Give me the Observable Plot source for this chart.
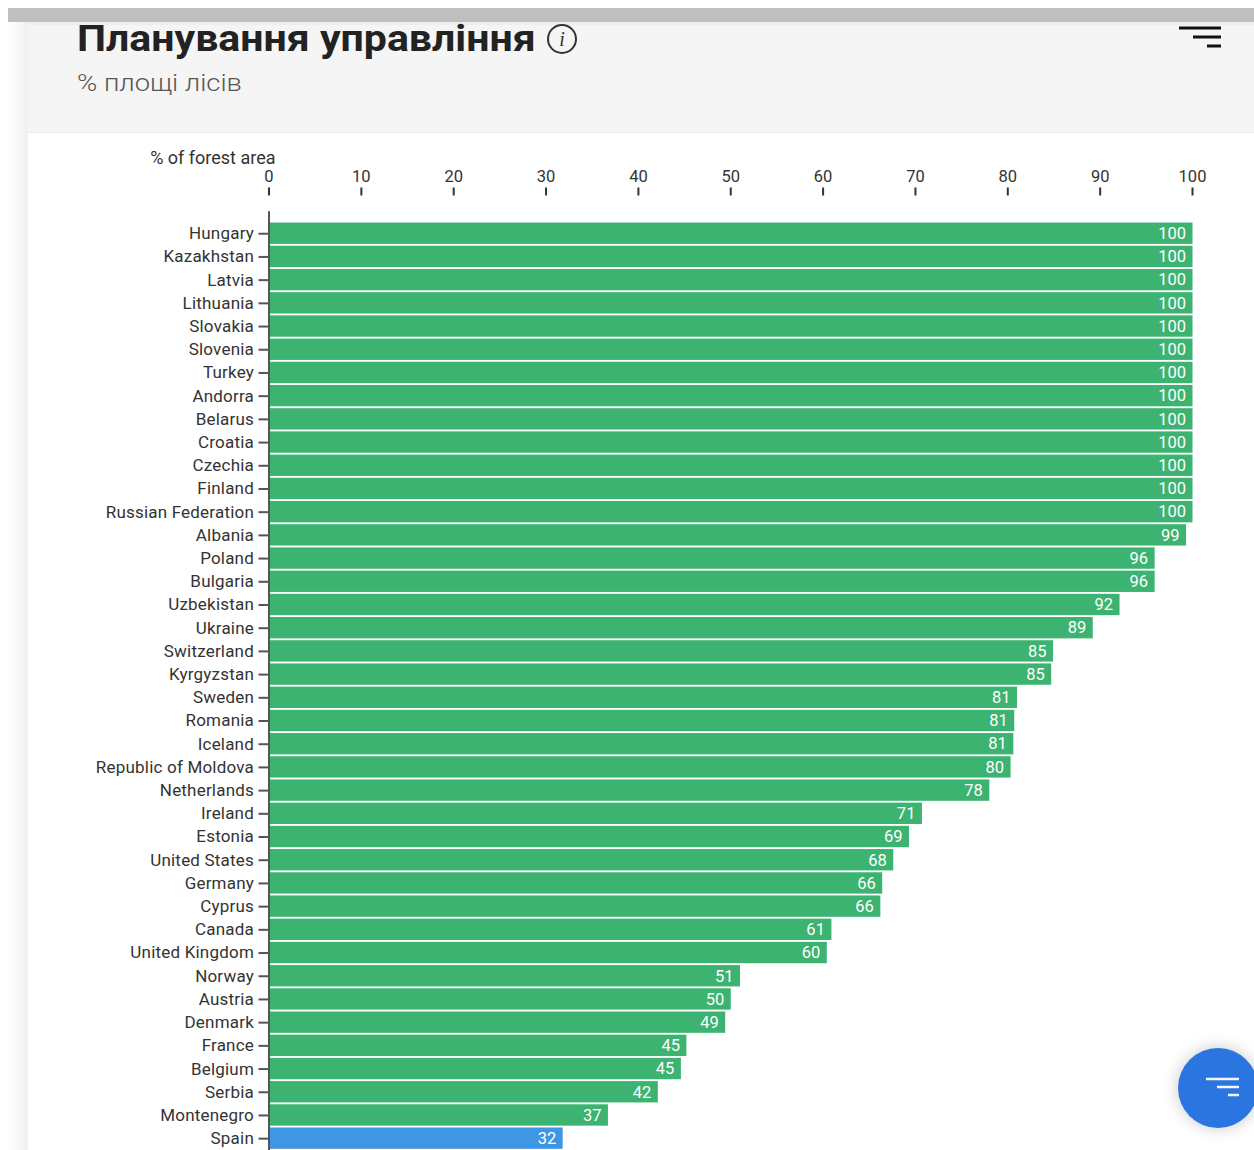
<!DOCTYPE html>
<html><head><meta charset="utf-8">
<script src="https://cdn.jsdelivr.net/npm/d3@7"></script>
<script src="https://cdn.jsdelivr.net/npm/@observablehq/plot@0.6"></script>
<style>
html,body{margin:0;padding:0;background:#fff;overflow:hidden}
#page{position:relative;width:1254px;height:1150px;overflow:hidden;font-family:Roboto,sans-serif}
#strip{position:absolute;left:8px;top:22px;width:20px;height:1128px;background:linear-gradient(90deg,#fff,#f0f0f0)}
#head{position:absolute;left:28px;top:22px;right:0;height:107px;background:#f5f5f5;border-top:3px solid #eee;border-bottom:1px solid #e9e9e9}
#bar{position:absolute;left:8px;right:0;top:8px;height:14px;background:#bfbfbf}
h1{position:absolute;left:77px;top:17px;margin:0;font-size:36px;line-height:44px;font-weight:700;color:#222;transform:scaleX(1.14);transform-origin:left center;white-space:nowrap}
#sub{position:absolute;left:77px;top:68px;font-size:24px;line-height:30px;font-weight:300;color:#555;transform:scaleX(1.14);transform-origin:left center;white-space:nowrap}
#plot{position:absolute;left:0;top:0}
.ic{position:absolute}
#fab{position:absolute;left:1178px;top:1048px;width:80px;height:80px;border-radius:50%;background:#2b75e0;box-shadow:0 0 16px rgba(0,0,0,.22)}
</style></head><body>
<div id="page">
<div id="strip"></div><div id="head"></div><div id="bar"></div>
<h1>Планування управління</h1>
<svg class="ic" style="left:546px;top:23px" width="32" height="32" viewBox="0 0 32 32"><circle cx="16" cy="16" r="14" fill="none" stroke="#333" stroke-width="2"/><text x="16" y="23" text-anchor="middle" font-family="Liberation Serif" font-style="italic" font-size="20" fill="#333">i</text></svg>
<div id="sub">% площі лісів</div>
<div id="plot"></div>
<svg class="ic" style="left:1178px;top:24px" width="44" height="26"><path d="M1 4H43M15 13H43M29 22H43" stroke="#111" stroke-width="3"/></svg>
<div id="fab"><svg width="80" height="80"><path d="M28 31H61M39 39H61M50 47H61" stroke="#f4f8ff" stroke-width="2.5"/></svg></div>
</div>
<script>
const countries = ["Hungary","Kazakhstan","Latvia","Lithuania","Slovakia","Slovenia","Turkey","Andorra","Belarus","Croatia","Czechia","Finland","Russian Federation","Albania","Poland","Bulgaria","Uzbekistan","Ukraine","Switzerland","Kyrgyzstan","Sweden","Romania","Iceland","Republic of Moldova","Netherlands","Ireland","Estonia","United States","Germany","Cyprus","Canada","United Kingdom","Norway","Austria","Denmark","France","Belgium","Serbia","Montenegro","Spain"];
const shares = [100,100,100,100,100,100,100,100,100,100,100,100,100,99.3,95.9,95.9,92.1,89.2,84.9,84.7,81,80.7,80.6,80.3,78,70.7,69.3,67.6,66.4,66.2,60.9,60.4,51,50,49.4,45.2,44.6,42.1,36.7,31.8];
const highlighted = "Spain";
const xTicks = [0,10,20,30,40,50,60,70,80,90,100];
const axisTitle = "% of forest area";
const rows = countries.map((country,i)=>({country,share:shares[i]}));
const font = "Roboto, sans-serif";
const chart = Plot.plot({
  width:1254, height:1150,
  marginLeft:269, marginRight:61.5, marginTop:220.7, marginBottom:-0.7,
  style:{background:"transparent",fontFamily:font,fontSize:"16.5px",color:"#333"},
  x:{domain:[0,100],axis:null},
  y:{domain:countries,padding:0.08,round:false,axis:null},
  marks:[
    Plot.barX(rows,{y:"country",x:"share",fill:d=>d.country===highlighted?"#3f97e3":"#3cb371",insetLeft:1}),
    Plot.axisX({anchor:"top",ticks:xTicks,tickSize:8,tickPadding:5,dy:-26.2,dx:-0.5,label:null,fontSize:16.5,stroke:"#333",strokeWidth:2}),
    Plot.axisY({anchor:"left",tickSize:10,tickPadding:5,dx:-0.5,label:null,fontSize:17,stroke:"#555",strokeWidth:2}),
    Plot.ruleX([0],{stroke:"#555",strokeWidth:2,insetTop:-9.5,dx:-0.5}),
    Plot.text(rows,{y:"country",x:"share",text:d=>String(Math.round(d.share)),textAnchor:"end",dx:-7,fill:"#fff",fontSize:16.5}),
    Plot.text([axisTitle],{frameAnchor:"top-left",dx:6,dy:-62.7,textAnchor:"end",lineAnchor:"middle",fontSize:18,fill:"#333"})
  ]
});
chart.querySelectorAll('[aria-label="y-axis tick label"]').forEach(g=>g.style.letterSpacing="0.2px");
document.getElementById("plot").appendChild(chart);
</script>
</body></html>
